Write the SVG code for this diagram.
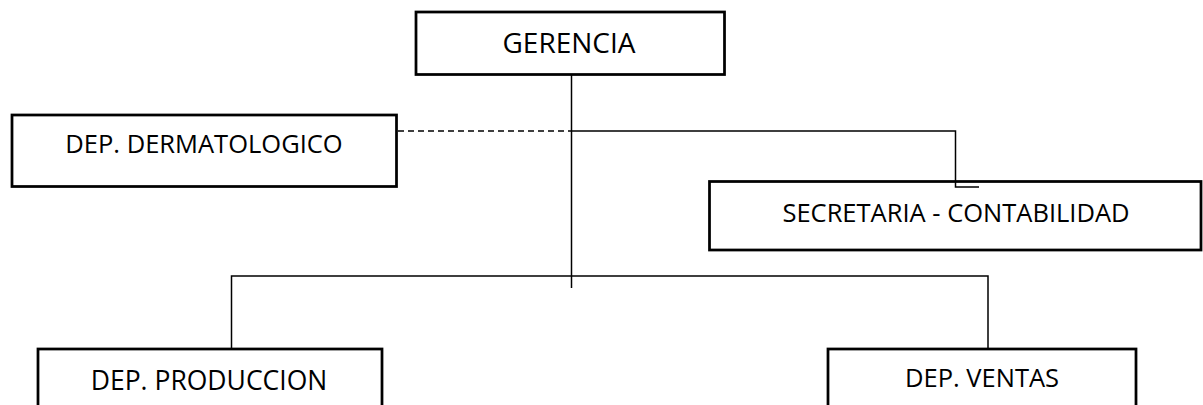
<svg xmlns="http://www.w3.org/2000/svg" width="1203" height="405" viewBox="0 0 1203 405">
  <style>
    .box { fill: #ffffff; stroke: #000000; stroke-width: 2.75; }
    .label { font-family: "Open Sans", "Liberation Sans", sans-serif; font-size: 25.5px; fill: #000000; text-anchor: middle; }
    .label.big { font-size: 28px; }
    .label.mid { font-size: 26.5px; }
    .link { fill: none; stroke: #000000; stroke-width: 1.5; }
    .link.dashed { stroke-dasharray: 6 4; }
  </style>
  <rect width="1203" height="405" fill="#ffffff"/>

  <g id="gerencia">
    <rect class="box" x="416" y="12" width="308.5" height="62.5"/>
    <text class="label big" x="569" y="53">GERENCIA</text>
  </g>

  <g id="dep-dermatologico">
    <rect class="box" x="12" y="115" width="384.5" height="71.5"/>
    <text class="label" x="204" y="153">DEP. DERMATOLOGICO</text>
  </g>

  <g id="secretaria-contabilidad">
    <rect class="box" x="709.5" y="181.5" width="491.5" height="68.5"/>
    <text class="label" x="956" y="222">SECRETARIA - CONTABILIDAD</text>
  </g>

  <g id="dep-produccion">
    <rect class="box" x="38" y="349" width="344" height="70"/>
    <text class="label mid" x="209" y="390">DEP. PRODUCCION</text>
  </g>

  <g id="dep-ventas">
    <rect class="box" x="828" y="349" width="308" height="70"/>
    <text class="label" x="982" y="387">DEP. VENTAS</text>
  </g>

  <!-- connectors, drawn last so the elbow into the secretary box stays visible -->
  <g id="connectors">
    <!-- trunk from management down to the lower bar -->
    <line class="link" x1="571.5" y1="75" x2="571.5" y2="288"/>
    <!-- dashed advisory link to dermatology -->
    <line class="link dashed" x1="398" y1="131" x2="571.5" y2="131"/>
    <!-- branch to secretary / accounting -->
    <polyline class="link" points="571.5,131 955.5,131 955.5,187 979,187"/>
    <!-- lower bar to production and sales -->
    <polyline class="link" points="231.5,348 231.5,276 988,276 988,348"/>
  </g>
</svg>
